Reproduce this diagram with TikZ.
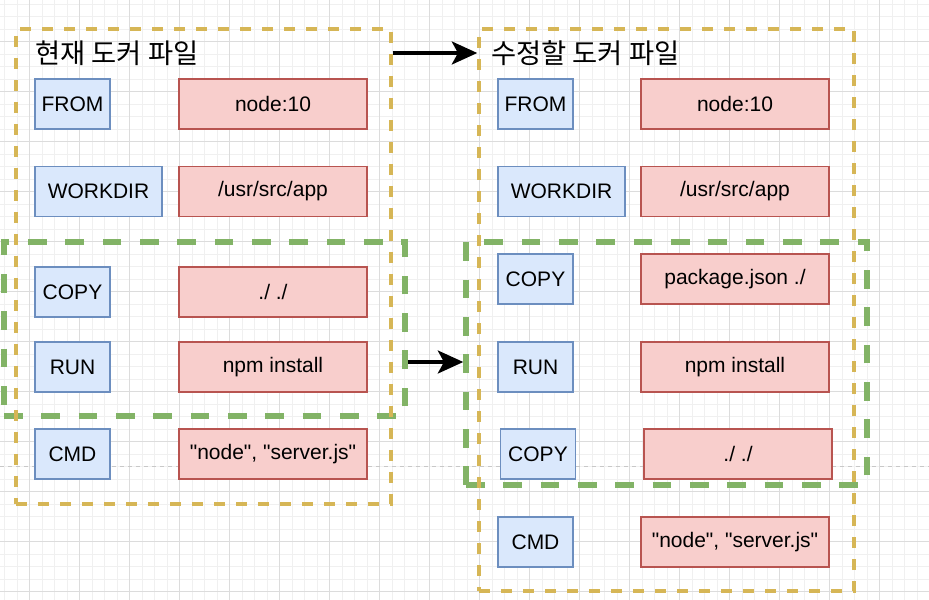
\documentclass[tikz,border=0pt]{standalone}
\usepackage{fontspec}
\setmainfont{Liberation Sans}
\newfontfamily\krfont{Noto Sans CJK KR}
\usetikzlibrary{arrows.meta}

\definecolor{keyfill}{HTML}{DAE8FC}
\definecolor{keyline}{HTML}{6C8EBF}
\definecolor{valfill}{HTML}{F8CECC}
\definecolor{valline}{HTML}{B85450}
\definecolor{fileline}{HTML}{D6B656}
\definecolor{grpline}{HTML}{82B366}
\definecolor{gridminor}{HTML}{F0F0F0}
\definecolor{gridmajor}{HTML}{DCDCDC}
\definecolor{pageline}{HTML}{C8C8C8}

\tikzset{
	key/.style={draw=keyline, fill=keyfill, line width=1pt, minimum width=56.25pt, minimum height=37.5pt, inner sep=0pt, font=\fontsize{15.75}{18}\selectfont},
	widekey/.style={key, minimum width=95.25pt},
	val/.style={draw=valline, fill=valfill, line width=1pt, minimum width=141pt, minimum height=37.5pt, inner sep=0pt, font=\fontsize{15.75}{18}\selectfont},
	title/.style={anchor=west, inner sep=0pt, font=\krfont\fontsize{20.5}{24}\selectfont},
	filebox/.style={draw=fileline, line width=2.5pt, dash pattern=on 8.25pt off 8.25pt, inner sep=0pt},
	grpbox/.style={draw=grpline, line width=4pt, dash pattern=on 14pt off 14pt, inner sep=0pt},
	flow/.style={-{Stealth[length=19pt, width=17pt, inset=4.5pt]}, line width=3.5pt}
}

\begin{document}
\begin{tikzpicture}[x=0.75pt, y=-0.75pt]
	\useasboundingbox (0,0) rectangle (929,600);

	\foreach \gx in {4.5,17,...,929} \draw[gridminor, line width=0.75pt] (\gx,0) -- (\gx,600);
	\foreach \gy in {4,16.5,...,600} \draw[gridminor, line width=0.75pt] (0,\gy) -- (929,\gy);
	\foreach \gx in {29.5,79.5,...,929} \draw[gridmajor, line width=0.75pt] (\gx,0) -- (\gx,600);
	\foreach \gy in {41.5,91.5,...,600} \draw[gridmajor, line width=0.75pt] (0,\gy) -- (929,\gy);
	\draw[pageline, line width=0.75pt, dash pattern=on 3pt off 3pt] (0,466) -- (929,466);

	\node[grpbox, minimum width=300.75pt, minimum height=130.5pt] (oldgrp) at (204.5,329) {};
	\node[grpbox, minimum width=300.75pt, minimum height=182.25pt] (newgrp) at (666.5,363.5) {};

	\node[filebox, minimum width=281.25pt, minimum height=356.25pt] (oldfile) at (203.5,266.5) {};
	\node[filebox, minimum width=281.25pt, minimum height=421.5pt] (newfile) at (666.5,310) {};

	\node[title] (oldtitle) at (35,53) {현재 도커 파일};
	\node[title] (newtitle) at (491,53) {수정할 도커 파일};

	\node[key] (oldfrom) at (72.5,104) {FROM};
	\node[val] (oldbase) at (273,104) {node:10};
	\node[widekey] (oldwork) at (98.5,191.5) {WORKDIR};
	\node[val] (olddir) at (273,191.5) {/usr/src/app};
	\node[key] (oldcopy) at (72.5,292) {COPY};
	\node[val] (oldsrc) at (273,292) {./ ./};
	\node[key] (oldrun) at (72.5,367) {RUN};
	\node[val] (oldinst) at (273,367) {npm install};
	\node[key] (oldcmd) at (72.5,454) {CMD};
	\node[val] (oldexec) at (273,454) {\textquotedbl node\textquotedbl, \textquotedbl server.js\textquotedbl};

	\node[key] (newfrom) at (535.5,104) {FROM};
	\node[val] (newbase) at (735,104) {node:10};
	\node[widekey] (newwork) at (561.5,191.5) {WORKDIR};
	\node[val] (newdir) at (735,191.5) {/usr/src/app};
	\node[key] (newcopya) at (535.5,279) {COPY};
	\node[val] (newpkg) at (735,279) {package.json ./};
	\node[key] (newrun) at (535.5,367) {RUN};
	\node[val] (newinst) at (735,367) {npm install};
	\node[key] (newcopyb) at (538,454) {COPY};
	\node[val] (newsrc) at (738,454) {./ ./};
	\node[key] (newcmd) at (535.5,542) {CMD};
	\node[val] (newexec) at (735,542) {\textquotedbl node\textquotedbl, \textquotedbl server.js\textquotedbl};

	\coordinate (grpmid) at (0,362);

	\draw[flow] (oldfile.east |- oldtitle) -- (newfile.west |- oldtitle);
	\draw[flow] (oldgrp.east |- grpmid) -- (newgrp.west |- grpmid);
\end{tikzpicture}
\end{document}
